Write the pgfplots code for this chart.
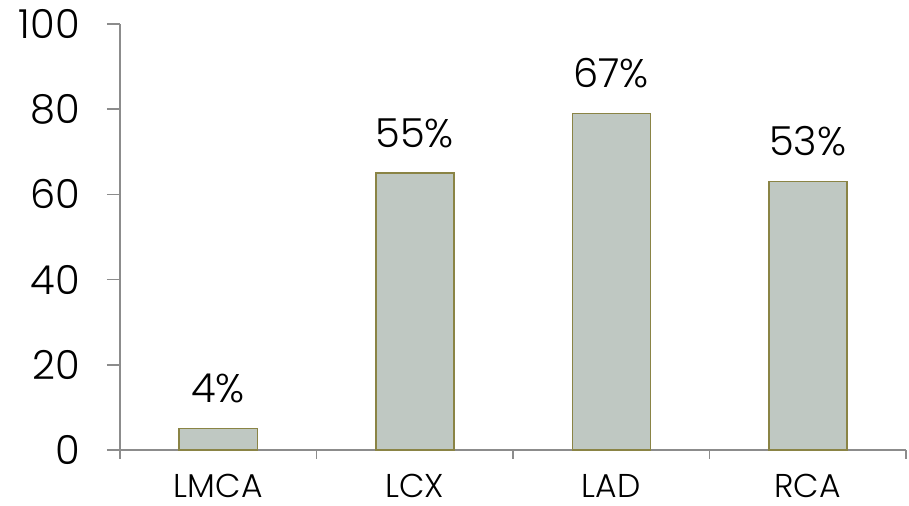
\documentclass[border=0pt]{standalone}
\usepackage{fontspec}
\setmainfont{Poppins}[UprightFont={* Light}]
\usepackage{pgfplots}
\pgfplotsset{compat=1.18}
\definecolor{barfill}{HTML}{BFC8C2}
\definecolor{baredge}{HTML}{8A8445}
\definecolor{axisgray}{HTML}{8C8C8C}
\begin{document}
\begin{tikzpicture}
\begin{axis}[
  scale only axis,
  width=393pt, height=213pt,
  xmin=-0.5, xmax=3.5, ymin=0, ymax=100,
  axis x line*=bottom, axis y line*=left,
  axis line style={draw=axisgray, line width=0.75pt},
  tick style={draw=axisgray, line width=0.75pt},
  tick align=outside,
  major tick length=6.5pt,
  minor tick length=4.5pt,
  xtick={0,1,2,3},
  xticklabels={LMCA,LCX,LAD,RCA},
  major x tick style={draw=none},
  minor xtick={-0.5,0.5,1.5,2.5,3.5},
  ytick={0,20,40,60,80,100},
  /pgf/number format/assume math mode=true,
  xticklabel style={font=\fontsize{16.5}{20}\selectfont, black, inner sep=0pt, yshift=-5.5pt},
  yticklabel style={font=\fontsize{20}{24}\selectfont, black, xshift=-10pt},
  ybar, bar width=39pt,
  nodes near coords={\pgfplotspointmeta\%},
  point meta=explicit symbolic,
  every node near coord/.append style={font=\fontsize{20}{24}\selectfont, black, yshift=9pt},
  clip=false,
]
\addplot[fill=barfill, draw=baredge, line width=0.75pt]
  coordinates {(0,5) [4] (1,65) [55] (2,79) [67] (3,63) [53]};
\coordinate (SW) at (rel axis cs:0,0);
\coordinate (NE) at (rel axis cs:1,1);
\end{axis}
\pgfresetboundingbox
\path ([xshift=-60pt,yshift=-28pt]SW) rectangle ([xshift=1.5pt,yshift=12pt]NE);
\end{tikzpicture}
\end{document}
